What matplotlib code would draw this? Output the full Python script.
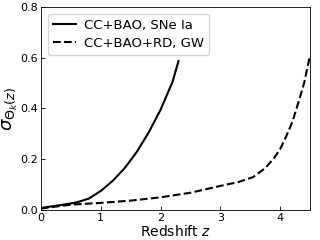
import matplotlib
matplotlib.use("Agg")
import matplotlib.pyplot as plt

# Solid: CC+BAO, SNe Ia
z_sn = [0.0, 0.2, 0.4, 0.6, 0.8, 1.0, 1.2, 1.4, 1.6, 1.8, 2.0, 2.2, 2.3]
s_sn = [0.008, 0.015, 0.022, 0.030, 0.045, 0.075, 0.115, 0.165, 0.228, 0.305, 0.395, 0.505, 0.587]

# Dashed: CC+BAO+RD, GW
z_gw = [0.0, 0.5, 1.0, 1.5, 2.0, 2.5, 3.0, 3.3, 3.55, 3.75, 3.9, 4.0, 4.1, 4.2, 4.3, 4.4, 4.5]
s_gw = [0.006, 0.021, 0.028, 0.037, 0.050, 0.068, 0.095, 0.110, 0.130, 0.165, 0.205, 0.240,
        0.290, 0.345, 0.420, 0.500, 0.610]

xticks = [0, 1, 2, 3, 4]
yticks = [0.0, 0.2, 0.4, 0.6, 0.8]

fig = plt.figure(figsize=(3.2, 2.4), dpi=100)
ax = fig.add_axes([0.128, 0.125, 0.841, 0.846])

ax.plot(z_sn, s_sn, color="black", lw=1.5, ls="-", label="CC+BAO, SNe Ia")
ax.plot(z_gw, s_gw, color="black", lw=1.5, ls="--", label="CC+BAO+RD, GW")

ax.set_xlim(0, 4.5)
ax.set_ylim(0, 0.8)
ax.set_xticks(xticks)
ax.set_yticks(yticks)
ax.set_xticklabels([str(t) for t in xticks])
ax.set_yticklabels([f"{t:.1f}" for t in yticks])
ax.tick_params(direction="in", labelsize=8, length=3, width=0.6, pad=2)
for sp in ax.spines.values():
    sp.set_linewidth(0.6)

ax.set_xlabel("Redshift $z$", fontsize=10, labelpad=1)
ax.set_ylabel(r"$\sigma_{\Theta_k(z)}$", fontsize=13, labelpad=0)

ax.legend(loc="upper left", fontsize=9.5, handlelength=1.75, handletextpad=0.6,
          frameon=True, borderaxespad=0.5, labelspacing=0.4)

fig.savefig("out.png", dpi=100)
